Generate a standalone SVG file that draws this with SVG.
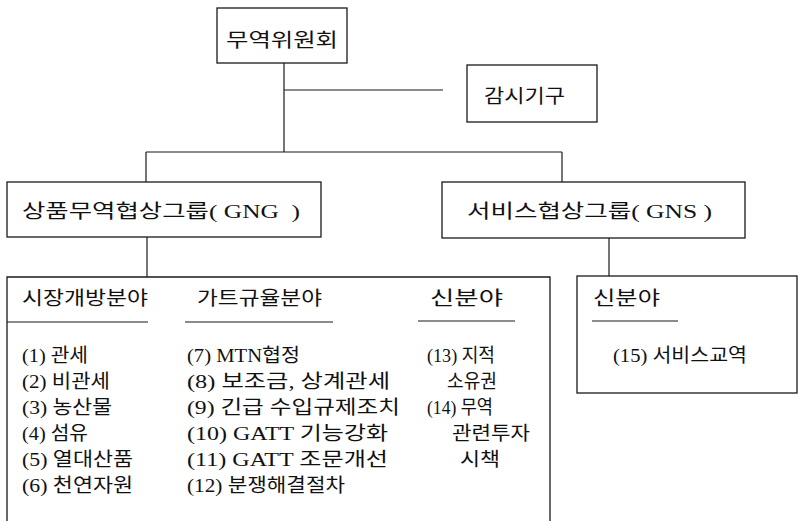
<svg xmlns="http://www.w3.org/2000/svg" width="799" height="521" viewBox="0 0 799 521">
<style>
  .box { fill: none; stroke: #1a1a1a; stroke-width: 1.3; }
  .ln { fill: none; stroke: #1a1a1a; stroke-width: 1.2; }
  text { font-family: "Liberation Serif", "Noto Sans CJK KR", serif; font-size: 19px; fill: #111; }
</style>
<rect width="799" height="521" fill="#fff"/>
<g id="connectors">
  <line class="ln" x1="284" y1="63" x2="284" y2="152"/>
  <line class="ln" x1="284" y1="90" x2="443" y2="90"/>
  <line class="ln" x1="146" y1="152" x2="562" y2="152"/>
  <line class="ln" x1="146" y1="152" x2="146" y2="182"/>
  <line class="ln" x1="562" y1="152" x2="562" y2="182"/>
  <line class="ln" x1="147" y1="237" x2="147" y2="277"/>
  <line class="ln" x1="609" y1="238" x2="609" y2="276"/>
</g>
<g id="trade-committee">
  <rect class="box" x="217" y="8" width="130" height="55"/>
  <text x="226" y="47" textLength="112" lengthAdjust="spacingAndGlyphs">무역위원회</text>
</g>
<g id="monitoring-body">
  <rect class="box" x="467" y="65" width="130" height="57"/>
  <text x="484" y="103" textLength="81" lengthAdjust="spacingAndGlyphs">감시기구</text>
</g>
<g id="gng">
  <rect class="box" x="7" y="182" width="314" height="55"/>
  <text x="22" y="218" textLength="278" lengthAdjust="spacingAndGlyphs" xml:space="preserve">상품무역협상그룹( GNG  )</text>
</g>
<g id="gns">
  <rect class="box" x="442" y="182" width="303" height="56"/>
  <text x="467" y="218" textLength="245" lengthAdjust="spacingAndGlyphs">서비스협상그룹( GNS )</text>
</g>
<g id="goods-areas">
  <path class="box" d="M7,530 V277 H550 V530"/>
  <line class="ln" x1="7" y1="322" x2="148" y2="322"/>
  <line class="ln" x1="185" y1="322" x2="333" y2="322"/>
  <line class="ln" x1="418" y1="321" x2="515" y2="321"/>
  <text x="22" y="305" textLength="126" lengthAdjust="spacingAndGlyphs">시장개방분야</text>
  <text x="197" y="305" textLength="125" lengthAdjust="spacingAndGlyphs">가트규율분야</text>
  <text x="430" y="305" textLength="73" lengthAdjust="spacingAndGlyphs">신분야</text>
  <text x="22" y="362" textLength="66" lengthAdjust="spacingAndGlyphs">(1) 관세</text>
  <text x="22" y="388" textLength="88" lengthAdjust="spacingAndGlyphs">(2) 비관세</text>
  <text x="22" y="414" textLength="90" lengthAdjust="spacingAndGlyphs">(3) 농산물</text>
  <text x="22" y="440" textLength="66" lengthAdjust="spacingAndGlyphs">(4) 섬유</text>
  <text x="22" y="466" textLength="111" lengthAdjust="spacingAndGlyphs">(5) 열대산품</text>
  <text x="22" y="492" textLength="111" lengthAdjust="spacingAndGlyphs">(6) 천연자원</text>
  <text x="187" y="362" textLength="113" lengthAdjust="spacingAndGlyphs">(7) MTN협정</text>
  <text x="187" y="388" textLength="203" lengthAdjust="spacingAndGlyphs">(8) 보조금, 상계관세</text>
  <text x="187" y="414" textLength="213" lengthAdjust="spacingAndGlyphs">(9) 긴급 수입규제조치</text>
  <text x="187" y="440" textLength="201" lengthAdjust="spacingAndGlyphs">(10) GATT 기능강화</text>
  <text x="187" y="466" textLength="201" lengthAdjust="spacingAndGlyphs">(11) GATT 조문개선</text>
  <text x="187" y="492" textLength="158" lengthAdjust="spacingAndGlyphs">(12) 분쟁해결절차</text>
  <text x="427" y="362" textLength="68" lengthAdjust="spacingAndGlyphs">(13) 지적</text>
  <text x="447" y="388" textLength="50" lengthAdjust="spacingAndGlyphs">소유권</text>
  <text x="427" y="414" textLength="66" lengthAdjust="spacingAndGlyphs">(14) 무역</text>
  <text x="452" y="440" textLength="78" lengthAdjust="spacingAndGlyphs">관련투자</text>
  <text x="460" y="466" textLength="40" lengthAdjust="spacingAndGlyphs">시책</text>
</g>
<g id="services-areas">
  <rect class="box" x="577" y="276" width="220" height="117"/>
  <line class="ln" x1="592" y1="321" x2="678" y2="321"/>
  <text x="593" y="305" textLength="67" lengthAdjust="spacingAndGlyphs">신분야</text>
  <text x="613" y="362" textLength="134" lengthAdjust="spacingAndGlyphs">(15) 서비스교역</text>
</g>
</svg>
